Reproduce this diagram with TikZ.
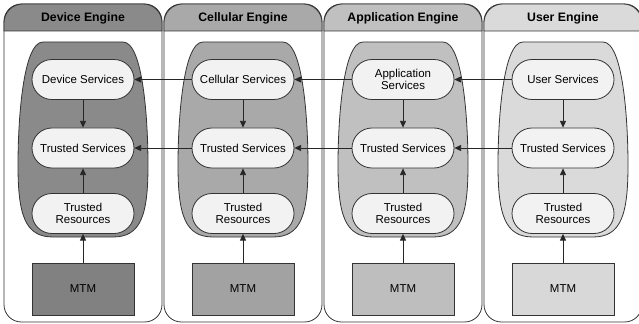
\documentclass[tikz,border=0pt]{standalone}
\usepackage{fontspec}
\setmainfont{Liberation Sans}
\usetikzlibrary{arrows.meta}

\definecolor{pillgray}{HTML}{F2F2F2}
\definecolor{devgray}{HTML}{8A8A8A}
\definecolor{devmtm}{HTML}{818181}
\definecolor{celgray}{HTML}{A9A9A9}
\definecolor{celmtm}{HTML}{A2A2A2}
\definecolor{appgray}{HTML}{C0C0C0}
\definecolor{appmtm}{HTML}{BEBEBE}
\definecolor{usrgray}{HTML}{DADADA}
\definecolor{usrmtm}{HTML}{D8D8D8}

\begin{document}
\begin{tikzpicture}[x=0.75pt, y=-0.75pt,
    outline/.style={draw=black!80, line width=0.6pt},
    service/.style={rectangle, rounded corners=15pt, outline, fill=pillgray, minimum width=76.5pt, minimum height=30pt, inner sep=1pt, align=center, font=\fontsize{8.6}{9.6}\selectfont},
    mtmbox/.style={rectangle, outline, minimum width=76.5pt, minimum height=39pt, font=\fontsize{8.6}{9.6}\selectfont},
    title/.style={font=\bfseries\fontsize{9.2}{11}\selectfont},
    link/.style={-{Triangle[length=5pt,width=4.5pt]}, line width=0.6pt, black!85}
]

\useasboundingbox (0,0) rectangle (639,324);
\clip (0,0) rectangle (639,324);

% Engines, one column each
\foreach \i/\cx/\name/\top/\shade/\mshade in {
    1/83/Device Engine/Device Services/devgray/devmtm,
    2/243/Cellular Engine/Cellular Services/celgray/celmtm,
    3/403/Application Engine/Application\\Services/appgray/appmtm,
    4/563/User Engine/User Services/usrgray/usrmtm} {
  % column body and header
  \draw[outline, fill=white, rounded corners=13pt] (\cx-79,4) rectangle (\cx+79,322);
  \draw[outline, fill=\shade] (\cx-79,31) [rounded corners=14pt] -- (\cx-79,4) -- (\cx+79,4) [sharp corners] -- (\cx+79,31) -- cycle;
  \node[title] (head\i) at (\cx,18) {\name};
  % trusted domain
  \draw[outline, fill=\shade] (\cx-40,42) -- (\cx+40,42)
      .. controls (\cx+60,42) and (\cx+65,120) .. (\cx+65,165)
      .. controls (\cx+65,215) and (\cx+58,237) .. (\cx+30,237)
      -- (\cx-30,237)
      .. controls (\cx-58,237) and (\cx-65,215) .. (\cx-65,165)
      .. controls (\cx-65,120) and (\cx-60,42) .. (\cx-40,42) -- cycle;
  % services
  \node[service] (svc\i) at (\cx,79.5) {\top};
  \node[service] (ts\i) at (\cx,148) {Trusted Services};
  \node[service] (tr\i) at (\cx,213.5) {Trusted\\Resources};
  \node[mtmbox, fill=\mshade] (mtm\i) at (\cx,289) {MTM};
  % stack inside the engine
  \draw[link] (svc\i) -- (ts\i);
  \draw[link] (tr\i) -- (ts\i);
  \draw[link] (mtm\i) -- (tr\i);
}

% Calls to the neighbouring engine
\foreach \a/\b in {2/1, 3/2, 4/3} {
  \draw[link] (svc\a) -- (svc\b);
  \draw[link] (ts\a) -- (ts\b);
}

\end{tikzpicture}
\end{document}
